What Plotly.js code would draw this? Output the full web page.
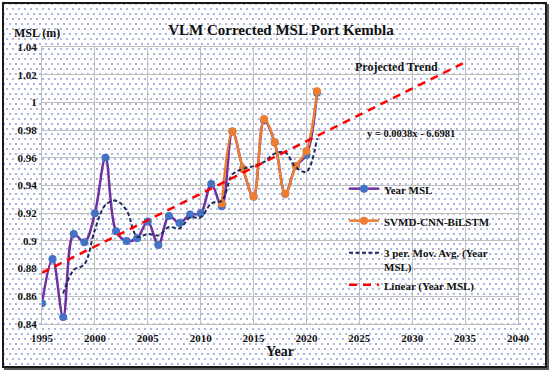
<!DOCTYPE html>
<html>
<head>
<meta charset="utf-8">
<script src="https://cdn.plot.ly/plotly-3.0.1.min.js"></script>
<style>
  html, body { margin: 0; padding: 0; background: #ffffff; }
  #wrap {
    position: absolute; left: 0; top: 0; width: 550px; height: 372px;
    background-color: #ffffff;
  }
  #frame {
    position: absolute; left: 2px; top: 2px; width: 541px; height: 362px;
    border: 2px solid #1a1a1a;
    box-shadow: 2px 2px 0 #555;
    background-color: #ffffff;
    background-image:
      radial-gradient(circle, #9fabd8 0.65px, rgba(255,255,255,0) 1.05px),
      radial-gradient(circle, #9fabd8 0.65px, rgba(255,255,255,0) 1.05px);
    background-size: 6px 10px, 6px 10px;
    background-position: 0 0, 3px 5px;
  }
  #chart { position: absolute; left: 0; top: 0; width: 550px; height: 372px; }
</style>
</head>
<body>
<div id="wrap"><div id="frame"></div><div id="chart"></div></div>
<script>
// Year MSL (observed)
const years = [1995,1996,1997,1998,1999,2000,2001,2002,2003,2004,2005,2006,2007,2008,2009,2010,2011,2012,2013,2014,2015,2016,2017,2018,2019,2020,2021];
const yearMSL = [0.855,0.887,0.845,0.905,0.899,0.920,0.960,0.907,0.900,0.902,0.914,0.897,0.918,0.913,0.919,0.920,0.941,0.925,0.979,0.952,0.932,0.987,0.971,0.934,0.954,0.962,1.007];

// SVMD-CNN-BiLSTM
const predYears = [2012,2013,2014,2015,2016,2017,2018,2019,2020,2021];
const predMSL = [0.927,0.979,0.952,0.932,0.988,0.971,0.934,0.954,0.965,1.008];

// 3 per. Mov. Avg. (Year MSL)
const maYears = [1997,1998,1999,2000,2001,2002,2003,2004,2005,2006,2007,2008,2009,2010,2011,2012,2013,2014,2015,2016,2017,2018,2019,2020,2021];
const maMSL = [0.862,0.879,0.883,0.908,0.926,0.929,0.922,0.903,0.905,0.904,0.910,0.909,0.917,0.917,0.927,0.929,0.948,0.952,0.954,0.957,0.963,0.964,0.953,0.950,0.974];

// Linear (Year MSL) projected trend
const trendYears = [1995, 2035];
const trendMSL = [0.877, 1.029];

const xTicks = [1995,2000,2005,2010,2015,2020,2025,2030,2035,2040];
const yTicks = [0.84,0.86,0.88,0.90,0.92,0.94,0.96,0.98,1.00,1.02,1.04];
const yTickText = ['0.84','0.86','0.88','0.9','0.92','0.94','0.96','0.98','1','1.02','1.04'];

const serif = 'Liberation Serif, Times New Roman, serif';
const legFont = {family: serif, size: 11, color: '#111', weight: 'bold'};

// plot area in pixels: x 42..518, y 47..324
const L = 42, R = 518, T = 47, B = 324, W = R - L, H = B - T;

const traces = [
  {x: years, y: yearMSL, name: 'Year MSL', type: 'scatter', mode: 'lines+markers',
   line: {color: '#7030A0', width: 2.5, shape: 'spline'},
   marker: {color: '#4472C4', size: 8}, legend: 'legend'},
  {x: predYears, y: predMSL, name: 'SVMD-CNN-BiLSTM', type: 'scatter', mode: 'lines+markers',
   line: {color: '#ED7D31', width: 2.5, shape: 'spline'},
   marker: {color: '#ED7D31', size: 8}, legend: 'legend2'},
  {x: maYears, y: maMSL, name: '3 per. Mov. Avg. (Year<br>MSL)', type: 'scatter', mode: 'lines',
   line: {color: '#1F2A5C', width: 2, dash: '4px,2.5px', shape: 'spline'}, legend: 'legend3'},
  {x: trendYears, y: trendMSL, name: 'Linear (Year MSL)', type: 'scatter', mode: 'lines',
   line: {color: '#FF0000', width: 2.5, dash: '8px,6px'}, legend: 'legend4'}
];

function leg(yPx) {
  return {x: (344 - L) / W, xanchor: 'left', y: (B - yPx) / H, yanchor: 'top',
          bgcolor: 'rgba(0,0,0,0)', borderwidth: 0, font: legFont, valign: 'top'};
}

const axisCommon = {
  showgrid: true, gridcolor: '#c0c0c0', gridwidth: 1,
  showline: true, linecolor: '#c0c0c0', linewidth: 1, mirror: true, zeroline: false,
  ticks: '', tickfont: {family: serif, size: 11, color: '#111', weight: 'bold'}
};

const layout = {
  width: 550, height: 372,
  margin: {l: L, r: 550 - R, t: T, b: 372 - B, pad: 0},
  paper_bgcolor: 'rgba(0,0,0,0)',
  plot_bgcolor: 'rgba(0,0,0,0)',
  showlegend: true,
  title: {text: '<b>VLM Corrected MSL Port Kembla</b>', x: 281/550, xref: 'container', xanchor: 'center',
          y: 1 - 30/372, yref: 'container', yanchor: 'middle',
          font: {family: serif, size: 15, color: '#111'}},
  xaxis: Object.assign({}, axisCommon, {range: [1995, 2040], tickvals: xTicks, ticktext: xTicks.map(String),
          ticklabelstandoff: 4,
          title: {text: '<b>Year</b>', font: {family: serif, size: 14, color: '#111'}, standoff: 2}}),
  yaxis: Object.assign({}, axisCommon, {range: [0.84, 1.04], tickvals: yTicks, ticktext: yTickText,
          ticklabelstandoff: 2}),
  legend: leg(175),
  legend2: leg(207),
  legend3: leg(239),
  legend4: leg(271),
  annotations: [
    {text: '<b>MSL (m)</b>', xref: 'paper', yref: 'paper', x: (12 - L) / W, xanchor: 'left',
     y: (B - 33) / H, yanchor: 'middle', showarrow: false, font: {family: serif, size: 12, color: '#111'}},
    {text: '<b>Projected Trend</b>', xref: 'paper', yref: 'paper', x: (396 - L) / W, xanchor: 'center',
     y: (B - 67) / H, yanchor: 'middle', showarrow: false, font: {family: serif, size: 12, color: '#111'}},
    {text: '<b>y = 0.0038x - 6.6981</b>', xref: 'paper', yref: 'paper', x: (411 - L) / W, xanchor: 'center',
     y: (B - 133) / H, yanchor: 'middle', showarrow: false, font: {family: serif, size: 10.5, color: '#111'}}
  ]
};

Plotly.newPlot('chart', traces, layout, {displayModeBar: false, staticPlot: true});
</script>
</body>
</html>
